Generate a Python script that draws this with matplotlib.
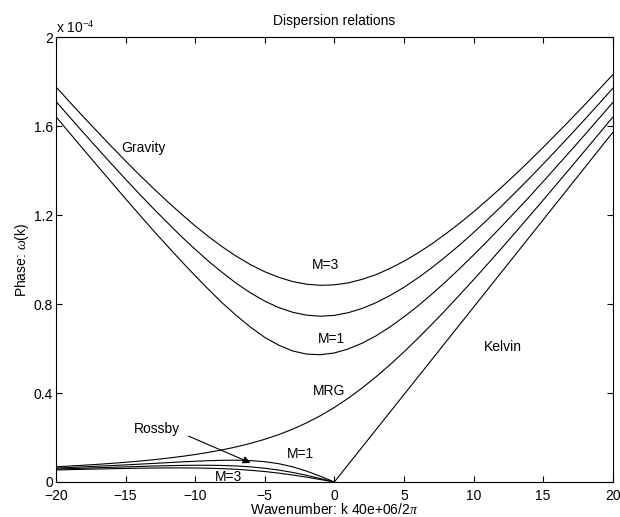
"""
Equatorial wave dispersion relations, MATLAB-style figure.
Saves out.png
"""
import matplotlib
matplotlib.use("Agg")
import matplotlib.pyplot as plt

plt.rcParams["font.family"] = ["Liberation Sans", "DejaVu Sans"]
plt.rcParams["mathtext.fontset"] = "custom"
plt.rcParams["mathtext.rm"] = "Liberation Serif"
plt.rcParams["mathtext.it"] = "Liberation Serif:italic"

# wavenumber (cycles per 40e6 m), full range and Rossby/Kelvin halves
k_all = list(range(-20, 21))
k_neg = list(range(-20, 1))
k_kelvin = [0, 5, 10, 15, 20]

# phase omega, units of 1e-4 s^-1
gravity_m1 = [1.642, 1.567, 1.493, 1.419, 1.346, 1.273, 1.201, 1.130, 1.061, 0.993,
              0.927, 0.863, 0.802, 0.746, 0.695, 0.650, 0.615, 0.589, 0.575, 0.572,
              0.580, 0.598, 0.624, 0.657, 0.697, 0.742, 0.791, 0.844, 0.900, 0.959,
              1.020, 1.083, 1.148, 1.214, 1.281, 1.350, 1.420, 1.490, 1.561, 1.633, 1.705]
gravity_m2 = [1.710, 1.639, 1.568, 1.498, 1.429, 1.361, 1.294, 1.229, 1.166, 1.104,
              1.046, 0.990, 0.939, 0.891, 0.849, 0.813, 0.784, 0.763, 0.750, 0.745,
              0.749, 0.761, 0.780, 0.806, 0.838, 0.875, 0.917, 0.963, 1.013, 1.065,
              1.121, 1.179, 1.239, 1.301, 1.364, 1.429, 1.495, 1.562, 1.630, 1.699, 1.769]
gravity_m3 = [1.776, 1.707, 1.639, 1.573, 1.507, 1.443, 1.380, 1.320, 1.261, 1.205,
              1.151, 1.101, 1.055, 1.013, 0.976, 0.945, 0.920, 0.901, 0.889, 0.884,
              0.886, 0.895, 0.911, 0.932, 0.960, 0.992, 1.029, 1.070, 1.115, 1.163,
              1.214, 1.268, 1.324, 1.382, 1.442, 1.504, 1.567, 1.631, 1.696, 1.763, 1.830]
mrg = [0.0685, 0.0718, 0.0754, 0.0794, 0.0837, 0.0886, 0.0940, 0.1001, 0.1070, 0.1147,
       0.1235, 0.1336, 0.1451, 0.1585, 0.1740, 0.1920, 0.2129, 0.2373, 0.2656, 0.2980,
       0.3350, 0.3766, 0.4227, 0.4729, 0.5271, 0.5847, 0.6452, 0.7083, 0.7734, 0.8405,
       0.9089, 0.9786, 1.0495, 1.1211, 1.1936, 1.2667, 1.3404, 1.4146, 1.4891, 1.5641, 1.6393]
rossby_m1 = [0.0629, 0.0654, 0.0681, 0.0709, 0.0738, 0.0769, 0.0802, 0.0835, 0.0869, 0.0902,
             0.0933, 0.0959, 0.0977, 0.0980, 0.0962, 0.0913, 0.0823, 0.0682, 0.0491, 0.0258, 0.0]
rossby_m2 = [0.0583, 0.0601, 0.0621, 0.0640, 0.0660, 0.0680, 0.0699, 0.0717, 0.0732, 0.0745,
             0.0752, 0.0752, 0.0742, 0.0719, 0.0679, 0.0619, 0.0537, 0.0430, 0.0301, 0.0155, 0.0]
rossby_m3 = [0.0542, 0.0556, 0.0570, 0.0584, 0.0597, 0.0609, 0.0620, 0.0628, 0.0633, 0.0634,
             0.0630, 0.0619, 0.0599, 0.0569, 0.0526, 0.0470, 0.0399, 0.0315, 0.0218, 0.0111, 0.0]
kelvin = [0.0, 0.3927, 0.7854, 1.1781, 1.5708]

fig = plt.figure(figsize=(6.2, 5.17), dpi=100)
ax = fig.add_axes([0.0903, 0.0677, 0.8979, 0.8607])

lw = 0.8
for w in (gravity_m1, gravity_m2, gravity_m3, mrg):
    ax.plot(k_all, w, color="k", lw=lw)
for w in (rossby_m1, rossby_m2, rossby_m3):
    ax.plot(k_neg, w, color="k", lw=lw)
ax.plot(k_kelvin, kelvin, color="k", lw=lw)

ax.set_xlim(-20, 20)
ax.set_ylim(0, 2)
ax.set_xticks([-20, -15, -10, -5, 0, 5, 10, 15, 20])
ax.set_xticklabels(["\u221220", "\u221215", "\u221210", "\u22125", "0", "5", "10", "15", "20"])
ax.set_yticks([0, 0.4, 0.8, 1.2, 1.6, 2])
ax.set_yticklabels(["0", "0.4", "0.8", "1.2", "1.6", "2"])
ax.tick_params(direction="in", top=True, right=True, length=4, width=0.8, labelsize=10)
ax.tick_params(axis="x", pad=5)
ax.tick_params(axis="y", pad=2)
for sp in ax.spines.values():
    sp.set_linewidth(0.8)

ax.text(0.0, 1.003, "x 10$^{-4}$", transform=ax.transAxes, fontsize=10,
        ha="left", va="bottom")
ax.set_title("Dispersion relations", fontsize=10, pad=8.5)
ax.set_xlabel("Wavenumber: k 40e+06/2$\\pi$", fontsize=10, labelpad=-1)
ax.set_ylabel("Phase: $\\omega$(k)", fontsize=10, labelpad=2)

fs = 10
ax.text(-13.75, 1.50, "Gravity", fontsize=fs, ha="center", va="center")
ax.text(-0.65, 0.975, "M=3", fontsize=fs, ha="center", va="center")
ax.text(-0.2, 0.643, "M=1", fontsize=fs, ha="center", va="center")
ax.text(-0.35, 0.409, "MRG", fontsize=fs, ha="center", va="center")
ax.text(12.1, 0.607, "Kelvin", fontsize=fs, ha="center", va="center")
ax.text(-12.75, 0.238, "Rossby", fontsize=fs, ha="center", va="center")
ax.text(-2.45, 0.126, "M=1", fontsize=fs, ha="center", va="center")
ax.text(-7.6, 0.022, "M=3", fontsize=fs, ha="center", va="center")
ax.annotate("", xy=(-5.84, 0.081), xytext=(-10.65, 0.211),
            arrowprops=dict(arrowstyle="-|>", color="k", lw=0.8, mutation_scale=11))

fig.savefig("out.png", dpi=100)
